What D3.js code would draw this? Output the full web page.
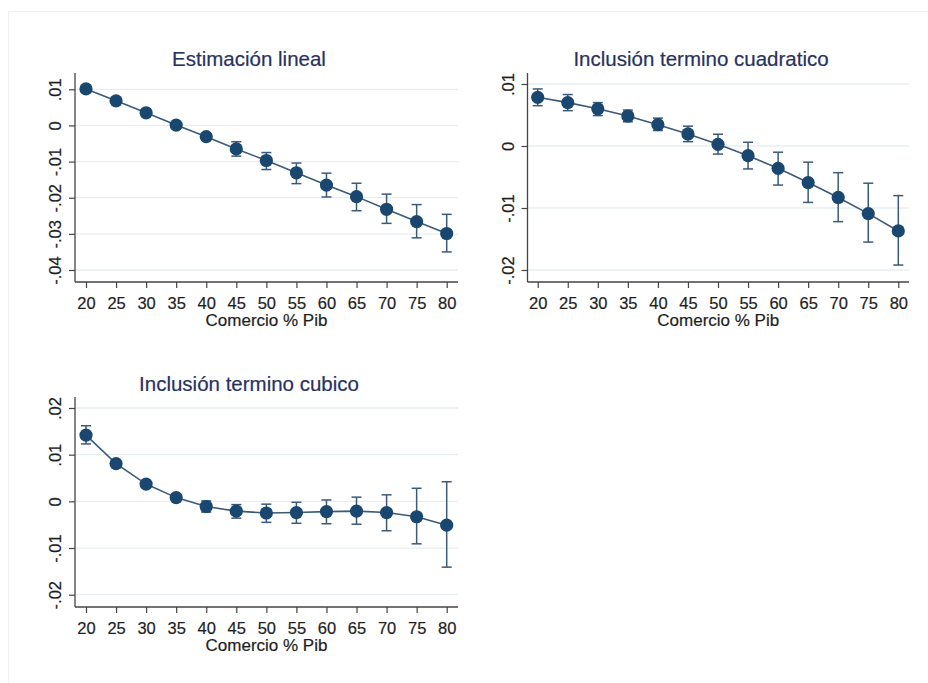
<!DOCTYPE html>
<html>
<head>
<meta charset="utf-8">
<script src="https://cdn.jsdelivr.net/npm/d3@7"></script>
<style>
  html, body { margin: 0; padding: 0; background: #fff; }
  svg { display: block; }
</style>
</head>
<body>
<svg id="chart" width="928" height="683"></svg>
<script>
// Trade openness (% of GDP) at which the marginal effect is evaluated
const comercio = [20, 25, 30, 35, 40, 45, 50, 55, 60, 65, 70, 75, 80];

// Linear specification: point estimate and 95% CI
const linealEst = [0.0101, 0.0068, 0.0035, 0.0001, -0.0031, -0.0065, -0.0097, -0.0131, -0.0165, -0.0197, -0.0232, -0.0266, -0.0299];
const linealLo  = [0.0096, 0.0063, 0.0030, -0.0005, -0.0039, -0.0085, -0.0122, -0.0161, -0.0198, -0.0236, -0.0271, -0.0311, -0.0350];
const linealHi  = [0.0106, 0.0073, 0.0040, 0.0007, -0.0023, -0.0045, -0.0075, -0.0104, -0.0132, -0.0160, -0.0190, -0.0219, -0.0246];

// Quadratic term included
const cuadEst = [0.00785, 0.0070, 0.0060, 0.00484, 0.00344, 0.00194, 0.00027, -0.00156, -0.0036, -0.0059, -0.0083, -0.0109, -0.0137];
const cuadLo  = [0.0065, 0.0057, 0.0049, 0.0039, 0.0025, 0.0007, -0.0013, -0.0037, -0.0063, -0.0091, -0.0122, -0.0155, -0.0192];
const cuadHi  = [0.0092, 0.0083, 0.0070, 0.0058, 0.0045, 0.0032, 0.0019, 0.0006, -0.0010, -0.0026, -0.0043, -0.0060, -0.0080];

// Cubic term included
const cubEst = [0.0142, 0.0081, 0.0037, 0.0008, -0.0011, -0.0021, -0.0025, -0.0024, -0.0022, -0.0021, -0.0024, -0.0033, -0.0051];
const cubLo  = [0.0123, 0.0074, 0.0031, 0.0001, -0.0023, -0.0036, -0.0045, -0.0047, -0.0048, -0.0049, -0.0063, -0.0091, -0.0141];
const cubHi  = [0.0162, 0.0088, 0.0043, 0.0015, 0.0001, -0.0007, -0.0006, -0.0002, 0.0003, 0.0009, 0.0014, 0.0028, 0.0042];

// Y-axis ticks and their labels (Stata style)
const linealTicks = [0.01, 0, -0.01, -0.02, -0.03, -0.04];
const linealTickLabels = [".01", "0", "-.01", "-.02", "-.03", "-.04"];
const cuadTicks = [0.01, 0, -0.01, -0.02];
const cuadTickLabels = [".01", "0", "-.01", "-.02"];
const cubTicks = [0.02, 0.01, 0, -0.01, -0.02];
const cubTickLabels = [".02", ".01", "0", "-.01", "-.02"];

const titles = ["Estimación lineal", "Inclusión termino cuadratico", "Inclusión termino cubico"];
const xTitle = "Comercio % Pib";

const FONT = "'Liberation Sans', Arial, Helvetica, sans-serif";
const MARKER = "#1a476f";
const LINE = "#3b5a79";
const TITLE = "#28325f";
const GRID = "#e7eef1";
const AXIS = "#444";
const TEXT = "#1e1e1e";

const panels = [
  { title: titles[0], est: linealEst, lo: linealLo, hi: linealHi, ticks: linealTicks, labels: linealTickLabels,
    box: { left: 75, right: 458, top: 73, bottom: 282 }, xr: [86, 446.7], yr: [270, 89.3], titleX: 249, titleY: 66 },
  { title: titles[1], est: cuadEst, lo: cuadLo, hi: cuadHi, ticks: cuadTicks, labels: cuadTickLabels,
    box: { left: 527.5, right: 909, top: 73, bottom: 282 }, xr: [537.7, 898.3], yr: [270, 84], titleX: 701, titleY: 66 },
  { title: titles[2], est: cubEst, lo: cubLo, hi: cubHi, ticks: cubTicks, labels: cubTickLabels,
    box: { left: 75, right: 458, top: 397, bottom: 607 }, xr: [86, 446.7], yr: [594.7, 408], titleX: 249, titleY: 391 }
];

const svg = d3.select("#chart");

// faint frame around the graph region
svg.append("rect")
  .attr("x", 8.5).attr("y", 11.5).attr("width", 960).attr("height", 720)
  .attr("fill", "none").attr("stroke", "#f0f0f0").attr("stroke-width", 1);

// slightly heavier text, like the original graph export
function styleText(sel, size, color) {
  sel.style("font-family", FONT).style("font-size", size)
    .attr("fill", color).attr("stroke", color).attr("stroke-width", 0.2);
}

panels.forEach(p => {
  const g = svg.append("g");
  const x = d3.scaleLinear().domain([20, 80]).range(p.xr);
  const y = d3.scaleLinear().domain([d3.min(p.ticks), d3.max(p.ticks)]).range(p.yr);

  // horizontal gridlines
  g.append("g").selectAll("line").data(p.ticks).join("line")
    .attr("x1", p.box.left).attr("x2", p.box.right)
    .attr("y1", d => y(d)).attr("y2", d => y(d))
    .attr("stroke", GRID).attr("stroke-width", 1.3);

  // y axis
  const ya = g.append("g").attr("transform", `translate(${p.box.left},0)`)
    .call(d3.axisLeft(y).tickValues(p.ticks).tickSize(6).tickFormat((d, i) => p.labels[i]));
  ya.select(".domain").remove();
  ya.selectAll(".tick line").attr("stroke", AXIS).attr("stroke-width", 1.2);
  ya.selectAll(".tick text")
    .attr("transform", "rotate(-90)")
    .attr("x", 0).attr("y", -14).attr("dy", 0)
    .attr("text-anchor", "middle")
    .call(styleText, "16.5px", TEXT);
  g.append("line")
    .attr("x1", p.box.left).attr("x2", p.box.left)
    .attr("y1", p.box.top).attr("y2", p.box.bottom)
    .attr("stroke", AXIS).attr("stroke-width", 1.3);

  // x axis
  const xa = g.append("g").attr("transform", `translate(0,${p.box.bottom})`)
    .call(d3.axisBottom(x).tickValues(comercio).tickSize(6).tickFormat(d3.format("d")));
  xa.select(".domain").remove();
  xa.selectAll(".tick line").attr("stroke", AXIS).attr("stroke-width", 1.2);
  xa.selectAll(".tick text")
    .attr("y", 27).attr("dy", 0)
    .call(styleText, "16.5px", TEXT);
  g.append("line")
    .attr("x1", p.box.left).attr("x2", p.box.right)
    .attr("y1", p.box.bottom).attr("y2", p.box.bottom)
    .attr("stroke", AXIS).attr("stroke-width", 1.3);

  // axis title
  g.append("text")
    .attr("x", (p.box.left + p.box.right) / 2).attr("y", p.box.bottom + 44)
    .attr("text-anchor", "middle")
    .call(styleText, "17px", TEXT)
    .text(xTitle);

  // panel title
  g.append("text")
    .attr("x", p.titleX).attr("y", p.titleY)
    .attr("text-anchor", "middle")
    .call(styleText, "20.5px", TITLE)
    .text(p.title);

  const pts = comercio.map((c, i) => ({ c, est: p.est[i], lo: p.lo[i], hi: p.hi[i] }));

  // confidence interval caps
  const ci = g.append("g").attr("stroke", LINE).attr("stroke-width", 1.5).attr("fill", "none");
  ci.selectAll("line.v").data(pts).join("line").attr("class", "v")
    .attr("x1", d => x(d.c)).attr("x2", d => x(d.c))
    .attr("y1", d => y(d.lo)).attr("y2", d => y(d.hi));
  ci.selectAll("line.t").data(pts).join("line").attr("class", "t")
    .attr("x1", d => x(d.c) - 5).attr("x2", d => x(d.c) + 5)
    .attr("y1", d => y(d.hi)).attr("y2", d => y(d.hi));
  ci.selectAll("line.b").data(pts).join("line").attr("class", "b")
    .attr("x1", d => x(d.c) - 5).attr("x2", d => x(d.c) + 5)
    .attr("y1", d => y(d.lo)).attr("y2", d => y(d.lo));

  // connecting line
  g.append("path")
    .datum(pts)
    .attr("d", d3.line().x(d => x(d.c)).y(d => y(d.est)))
    .attr("fill", "none").attr("stroke", LINE).attr("stroke-width", 1.6);

  // markers
  g.append("g").selectAll("circle").data(pts).join("circle")
    .attr("cx", d => x(d.c)).attr("cy", d => y(d.est)).attr("r", 6.6)
    .attr("fill", MARKER);
});
</script>
</body>
</html>
